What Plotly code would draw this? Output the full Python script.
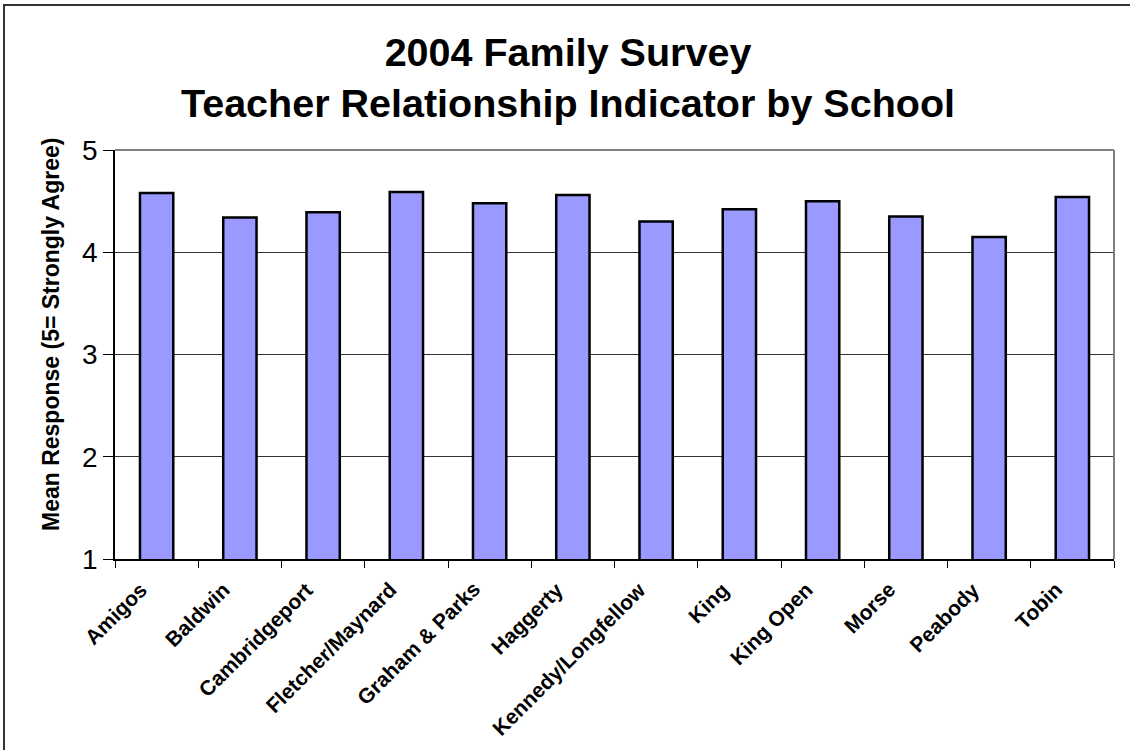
import plotly.graph_objects as go

schools = ["Amigos", "Baldwin", "Cambridgeport", "Fletcher/Maynard", "Graham & Parks",
           "Haggerty", "Kennedy/Longfellow", "King", "King Open", "Morse", "Peabody", "Tobin"]
mean_response = [4.58, 4.34, 4.39, 4.59, 4.48, 4.56, 4.30, 4.42, 4.50, 4.35, 4.15, 4.54]
y_ticks = [1, 2, 3, 4, 5]

W, H = 1130, 750
ML, MR, MT, MB = 115, 16, 150, 191
pw = W - ML - MR
ph = H - MT - MB

def px_x(x):
    return (x - ML) / pw

def px_y(y):
    return (H - MB - y) / ph

fig = go.Figure(go.Bar(
    x=schools, y=mean_response,
    marker=dict(color="#9999FF", line=dict(color="black", width=2.5)),
    width=0.4,
))

font = "Liberation Sans, Arial, sans-serif"
fig.update_layout(
    width=W, height=H,
    margin=dict(l=ML, r=MR, t=MT, b=MB, autoexpand=False),
    paper_bgcolor="white", plot_bgcolor="white",
    showlegend=False,
    title=dict(text="<b>2004 Family Survey<br>Teacher Relationship Indicator by School</b>",
               x=568 / W, xanchor="center", y=1 - 66 / H, yanchor="middle",
               font=dict(family=font, size=39.5, color="black")),
    font=dict(family=font, color="black"),
)
fig.update_xaxes(
    type="category", categoryorder="array", categoryarray=schools,
    range=[-0.5, len(schools) - 0.5], autorange=False,
    tickson="boundaries", ticks="outside", ticklen=7, tickcolor="black",
    showline=True, linecolor="black", linewidth=1.5, showticklabels=False,
    showgrid=False,
)
for i, s in enumerate(schools):
    fig.add_annotation(text="<b>" + s + "</b>", textangle=-45,
                       xref="x", x=i, yref="paper", y=0, xshift=-3, yshift=-16,
                       xanchor="right", yanchor="top", showarrow=False,
                       font=dict(family=font, size=21, color="black"))
fig.update_yaxes(
    range=[1, 5], tickvals=y_ticks, ticktext=[str(v) for v in y_ticks],
    ticks="outside", ticklen=10, tickcolor="black",
    showline=True, linecolor="black", linewidth=1.5,
    showgrid=True, gridcolor="#333333", gridwidth=1,
    tickfont=dict(family=font, size=28, color="black"),
    zeroline=False,
)
fig.add_annotation(text="<b>Mean Response (5= Strongly Agree)</b>", textangle=-90,
                   xref="paper", yref="paper", x=px_x(51), y=px_y(335),
                   xanchor="center", yanchor="middle", showarrow=False,
                   font=dict(family=font, size=23, color="black"))
# plot-area top & right border (gray)
fig.add_shape(type="line", xref="paper", yref="paper", x0=0, x1=1, y0=1, y1=1,
              line=dict(color="#808080", width=2), layer="above")
fig.add_shape(type="line", xref="paper", yref="paper", x0=1, x1=1, y0=0, y1=1,
              line=dict(color="#808080", width=2), layer="above")
# outer figure border (top and left visible)
fig.add_shape(type="rect", xref="paper", yref="paper",
              x0=px_x(4), x1=px_x(W + 20), y0=px_y(H + 20), y1=px_y(5),
              line=dict(color="#333333", width=2), layer="above")

fig.write_html("out.html", config={"displayModeBar": False},
               post_script="document.body.style.margin='0';document.body.style.overflow='hidden';")
